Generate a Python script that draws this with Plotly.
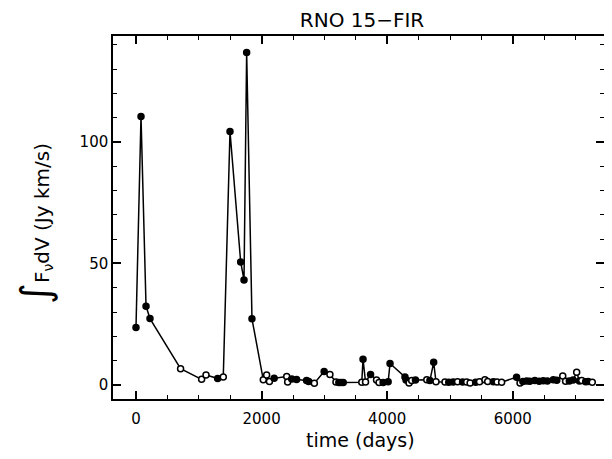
import plotly.graph_objects as go

time_days = [0, 80, 160, 223, 710, 1045, 1115, 1300, 1390, 1497, 1667, 1720, 1762, 1847,
             2027, 2080, 2125, 2200, 2400, 2415, 2480, 2557, 2716, 2750, 2840, 2996, 3088,
             3184, 3230, 3264, 3300, 3595, 3615, 3655, 3735, 3830, 3870, 3935, 4015, 4045,
             4283, 4300, 4348, 4390, 4450, 4630, 4680, 4740, 4777, 4920, 4980, 5050, 5120,
             5200, 5265, 5320, 5408, 5470, 5556, 5600, 5690, 5750, 5822, 6060, 6115, 6160,
             6220, 6270, 6350, 6420, 6485, 6550, 6645, 6700, 6795, 6840, 6900, 6960, 7017,
             7060, 7097, 7160, 7200, 7265]
flux = [23.6, 110.5, 32.4, 27.3, 6.7, 2.3, 4.1, 2.6, 3.3, 104.3, 50.6, 43.2, 136.8, 27.2,
        2.1, 4.1, 1.4, 2.7, 3.5, 1.2, 2.4, 2.2, 1.8, 1.4, 0.7, 5.5, 4.3,
        1.2, 1.0, 1.0, 1.0, 1.1, 10.6, 1.2, 4.3, 2.0, 1.0, 1.0, 1.3, 8.8,
        3.3, 2.0, 0.8, 1.8, 2.0, 2.1, 1.8, 9.3, 1.3, 1.2, 1.1, 1.2, 1.3,
        1.2, 1.2, 0.8, 1.1, 1.3, 2.1, 1.4, 1.3, 1.2, 1.1, 3.2, 0.8, 1.4,
        1.6, 1.5, 1.8, 1.5, 1.7, 1.6, 2.1, 1.9, 3.7, 1.5, 1.6, 2.0, 5.2,
        1.6, 1.8, 1.3, 1.4, 1.1]
filled = [1, 1, 1, 1, 0, 0, 0, 1, 0, 1, 1, 1, 1, 1,
          0, 0, 0, 1, 0, 0, 1, 1, 1, 1, 0, 1, 0,
          0, 1, 1, 1, 0, 1, 0, 1, 0, 0, 1, 1, 1,
          1, 1, 0, 0, 1, 0, 1, 1, 0, 0, 1, 1, 0,
          1, 0, 0, 1, 0, 0, 0, 1, 0, 0, 1, 0, 1,
          1, 1, 1, 1, 1, 1, 1, 1, 0, 0, 1, 1, 0,
          1, 0, 1, 1, 0]

fill_colors = ["black" if f else "white" for f in filled]

fig = go.Figure()
fig.add_trace(go.Scatter(
    x=time_days, y=flux, mode="lines+markers",
    line=dict(color="black", width=1.5),
    marker=dict(symbol="circle", size=6, color=fill_colors,
                line=dict(color="black", width=1.5)),
    showlegend=False,
))

font = "DejaVu Sans, Liberation Sans, sans-serif"
axis_common = dict(
    showgrid=False, zeroline=False, showline=True, linecolor="black", linewidth=1.5,
    mirror="allticks", ticks="inside", ticklen=8, tickwidth=1.5, tickcolor="black",
    tickfont=dict(family=font, size=15, color="black"), automargin=False,
)
fig.update_xaxes(
    range=[-366, 7452], tick0=0, dtick=2000, ticklabelstandoff=5,
    minor=dict(ticks="inside", dtick=500, ticklen=4, tickwidth=1.2, tickcolor="black"),
    **axis_common,
)
fig.update_yaxes(
    range=[-5.8, 143.6], tick0=0, dtick=50,
    minor=dict(ticks="inside", dtick=10, ticklen=4, tickwidth=1.2, tickcolor="black"),
    **axis_common,
)
fig.add_annotation(
    text="time (days)", xref="paper", yref="paper", x=0.505, y=-0.113,
    xanchor="center", yanchor="middle", showarrow=False,
    font=dict(family=font, size=19, color="black"),
)
fig.add_annotation(
    text="<span style='font-size:40px'>∫</span>F<sub>ν</sub>dV (Jy km/s)",
    xref="paper", yref="paper", x=-0.159, y=0.485, textangle=-90,
    xanchor="center", yanchor="middle", showarrow=False,
    font=dict(family=font, size=20, color="black"),
)
fig.update_layout(
    width=596, height=443,
    margin=dict(l=105, r=0, t=28, b=52),
    paper_bgcolor="white", plot_bgcolor="white",
    title=dict(text="RNO 15−FIR", x=0.594, xanchor="center", y=0.972, yanchor="middle",
               font=dict(family=font, size=20, color="black")),
)
fig.write_html("out.html")
